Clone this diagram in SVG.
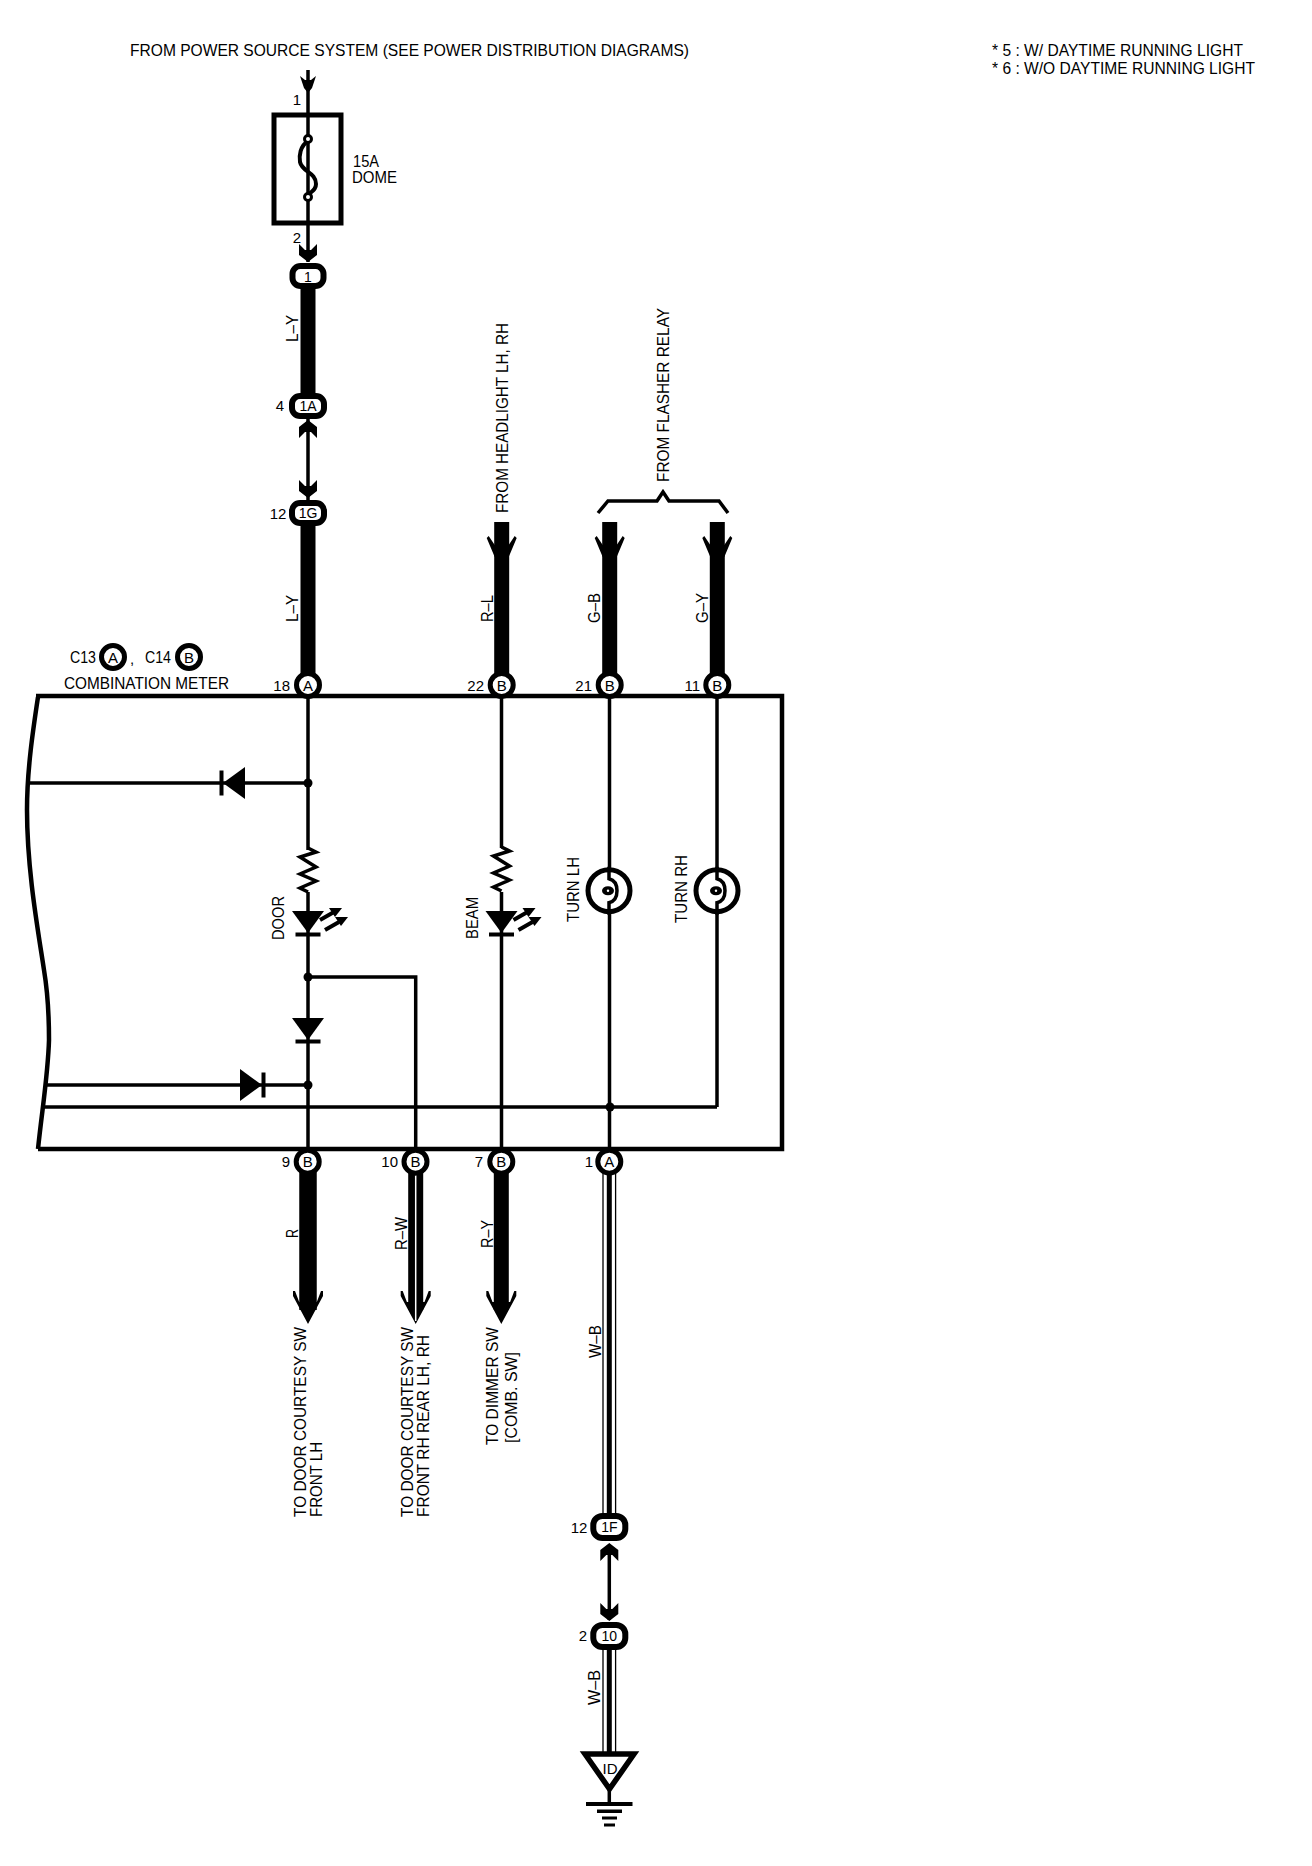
<svg xmlns="http://www.w3.org/2000/svg" xmlns:xlink="http://www.w3.org/1999/xlink" width="1312" height="1866" viewBox="0 0 1312 1866">
<style>
text{font-family:"Liberation Sans",Arial,sans-serif;font-size:15px;fill:#000}
text[textLength]{font-size:16.5px}
.ring{fill:#fff;stroke:#000;stroke-width:5}
.pill{fill:#fff;stroke:#000;stroke-width:6}
.fat{stroke:#000;fill:none;stroke-linecap:butt}
.thin{stroke:#000;fill:none;stroke-width:3.5}
.box{stroke:#000;fill:none;stroke-width:4.5}
.c{text-anchor:middle}
.e{text-anchor:end}
.p{font-size:14px}
</style>
<defs>
<polygon id="tipArrow" points="0,0 -15,-28 -15,-33 -13,-33 -8.8,-22 8.8,-22 13,-33 15,-33 15,-28"/>
<polygon id="yArrow" points="-15,1 -13,-1 -7,8 7,8 13,-1 15,1 7,20 -7,20"/>
<polygon id="smallArrow" points="-9,-18 -3,-12 3,-12 9,-18 9,-7 0,0 -9,-7"/>
<g id="diode"><polygon points="-16,0 16,0 0,22"/><rect x="-12.5" y="21.5" width="25" height="4"/></g>
<g id="led"><use href="#diode"/><path d="M12,9 L26,1 M17,19 L31,11" stroke="#000" stroke-width="4" fill="none"/><polygon points="34,-3 21,-3 27,6"/><polygon points="40,6 27,6 33,15"/></g>
<path id="res" d="M0,0 L8,4 L-8,9 L8,19 L-8,26 L8,33 L-8,40 L0,44" fill="none" stroke="#000" stroke-width="3.5"/>
<g id="lamp"><circle r="21" fill="#fff" stroke="#000" stroke-width="5"/><path d="M0,-24 V-12 Q8,-10 8,0 Q8,10 0,12 V24" fill="none" stroke="#000" stroke-width="3.5"/><ellipse cx="-1" cy="0" rx="6" ry="4.5"/><circle cx="-1" cy="0" r="1.2" fill="#fff"/></g>
</defs>

<g id="connectors">
<path class="thin" d="M308,70 V262"/>
<path class="fat" stroke-width="15" d="M308,285 V395"/>
<path class="thin" d="M308,415 V500"/>
<path class="fat" stroke-width="15" d="M308,520 V675"/>
<path class="fat" stroke-width="15" d="M501.7,522 V675"/>
<path class="fat" stroke-width="15" d="M609.7,522 V675"/>
<path class="fat" stroke-width="15" d="M717.3,522 V675"/>
<path class="thin" d="M308,696 V1149"/>
<path class="thin" d="M501.5,696 V1149"/>
<path class="thin" d="M609.5,696 V1149"/>
<path class="thin" d="M717,696 V1107"/>
<path class="thin" d="M27,783 H308"/>
<path class="thin" d="M47,1085 H308"/>
<path class="thin" d="M45,1107 H717"/>
<path class="thin" d="M308,977 H415.7 V1149"/>
<path class="fat" stroke-width="17.5" d="M308,1170 V1310"/>
<path class="fat" stroke-width="15" d="M415.7,1170 V1310"/>
<path class="fat" stroke-width="15" d="M501.3,1170 V1310"/>
<use href="#tipArrow" x="308" y="1324"/>
<use href="#tipArrow" x="415.7" y="1324"/>
<use href="#tipArrow" x="501.3" y="1324"/>
<path fill="none" stroke="#fff" stroke-width="1.5" d="M415.7,1172 V1321"/>
<path class="fat" stroke-width="1.3" d="M603,1170 V1520 M615.6,1170 V1520"/>
<path class="fat" stroke-width="5" d="M609.3,1170 V1520"/>
<path class="thin" d="M609.3,1545 V1620"/>
<path class="fat" stroke-width="1.3" d="M603,1645 V1755 M615.6,1645 V1755"/>
<path class="fat" stroke-width="5" d="M609.3,1645 V1755"/>
<path class="thin" d="M609.3,1790 V1804"/>
<use href="#smallArrow" x="308" y="262"/>
<use href="#smallArrow" transform="translate(308,420) scale(1,-1)"/>
<use href="#smallArrow" x="308" y="498"/>
<use href="#smallArrow" transform="translate(609.3,1543) scale(1,-1)"/>
<use href="#smallArrow" x="609.3" y="1621"/>
<polygon points="300,76 305,80 311,80 316,76 312,88 308,93 304,88"/>
<use href="#yArrow" x="501.7" y="537"/>
<use href="#yArrow" x="609.7" y="537"/>
<use href="#yArrow" x="717.3" y="537"/>
<circle cx="308" cy="783" r="4.5"/>
<circle cx="308" cy="977" r="4.5"/>
<circle cx="308" cy="1085" r="4.5"/>
<circle cx="610" cy="1107" r="4.5"/>
</g>

<g id="header-text">
<text x="130" y="56" textLength="559" lengthAdjust="spacingAndGlyphs">FROM POWER SOURCE SYSTEM (SEE POWER DISTRIBUTION DIAGRAMS)</text>
<text x="992" y="56" textLength="251" lengthAdjust="spacingAndGlyphs">* 5 : W/ DAYTIME RUNNING LIGHT</text>
<text x="992" y="74" textLength="263" lengthAdjust="spacingAndGlyphs">* 6 : W/O DAYTIME RUNNING LIGHT</text>
</g>

<g id="fuse-dome">
<rect x="274" y="115" width="67" height="108" class="box" style="stroke-width:5"/>
<path d="M308,141 C300,146 299,156 300,162 C302,172 316,172 316,184 C316,190 312,191 308,195" fill="none" stroke="#000" stroke-width="4"/>
<circle cx="308" cy="139" r="3.5" fill="#fff" stroke="#000" stroke-width="3"/>
<circle cx="308" cy="197" r="3.5" fill="#fff" stroke="#000" stroke-width="3"/>
<text x="353" y="167" textLength="26" lengthAdjust="spacingAndGlyphs">15A</text>
<text x="352" y="183" textLength="45" lengthAdjust="spacingAndGlyphs">DOME</text>
<text x="297" y="105" class="c">1</text>
<text x="297" y="243" class="c">2</text>
</g>

<g id="meter">
<path class="box" d="M36,696 H782 V1149 H38"/>
<path class="box" d="M38,697 C33,730 27,770 27,810 C27,870 38,930 44,970 C49,1000 49,1030 49,1040 C48,1075 42,1110 38,1149"/>
<text x="70" y="663" textLength="26" lengthAdjust="spacingAndGlyphs">C13</text>
<circle class="ring" cx="113" cy="657" r="11.5"/>
<text x="113" y="662.5" class="c">A</text>
<text x="132" y="664" class="c">,</text>
<text x="145" y="663" textLength="26" lengthAdjust="spacingAndGlyphs">C14</text>
<circle class="ring" cx="189" cy="657" r="11.5"/>
<text x="189" y="662.5" class="c">B</text>
<text x="64" y="689" textLength="165" lengthAdjust="spacingAndGlyphs">COMBINATION METER</text>
</g>

<g id="door-circuit">
<use href="#diode" transform="translate(245,783) rotate(90)"/>
<rect x="296" y="850" width="24" height="42" fill="#fff"/>
<use href="#res" x="308" y="848"/>
<use href="#led" x="308" y="911"/>
<use href="#diode" x="308" y="1018"/>
<use href="#diode" transform="translate(240,1085) rotate(-90)"/>
<text transform="translate(284,940) rotate(-90)" textLength="44" lengthAdjust="spacingAndGlyphs">DOOR</text>
</g>

<g id="beam-circuit">
<rect x="490" y="848" width="24" height="44" fill="#fff"/>
<use href="#res" x="501.5" y="847"/>
<use href="#led" x="501.5" y="911"/>
<text transform="translate(478,939) rotate(-90)" textLength="42" lengthAdjust="spacingAndGlyphs">BEAM</text>
</g>

<g id="turn-lh">
<use href="#lamp" x="609" y="890.7"/>
<text transform="translate(579,922) rotate(-90)" textLength="65" lengthAdjust="spacingAndGlyphs">TURN LH</text>
</g>
<g id="turn-rh">
<use href="#lamp" x="717" y="890.7"/>
<text transform="translate(687,923) rotate(-90)" textLength="68" lengthAdjust="spacingAndGlyphs">TURN RH</text>
</g>

<g id="conn-1">
<rect class="pill" x="292.5" y="266" width="31" height="20" rx="8"/>
<text x="308" y="281.5" class="c p">1</text>
</g>
<g id="conn-1A">
<rect class="pill" x="292" y="396" width="32" height="20" rx="8"/>
<text x="308" y="411" class="c p">1A</text>
<text x="280" y="411" class="c">4</text>
</g>
<g id="conn-1G">
<rect class="pill" x="292" y="503" width="32" height="20" rx="8"/>
<text x="308" y="518" class="c p">1G</text>
<text x="278" y="518.5" class="c">12</text>
</g>
<g id="conn-18A">
<circle class="ring" cx="308" cy="685" r="11.5"/>
<text x="308" y="690.5" class="c">A</text>
<text x="290" y="691" class="e">18</text>
</g>
<g id="conn-22B">
<circle class="ring" cx="501.7" cy="685" r="11.5"/>
<text x="501.7" y="690.5" class="c">B</text>
<text x="484" y="691" class="e">22</text>
</g>
<g id="conn-21B">
<circle class="ring" cx="609.7" cy="685" r="11.5"/>
<text x="609.7" y="690.5" class="c">B</text>
<text x="592" y="691" class="e">21</text>
</g>
<g id="conn-11B">
<circle class="ring" cx="717.3" cy="685" r="11.5"/>
<text x="717.3" y="690.5" class="c">B</text>
<text x="700" y="691" class="e">11</text>
</g>
<g id="conn-9B">
<circle class="ring" cx="307.7" cy="1161.7" r="11.5"/>
<text x="307.7" y="1167" class="c">B</text>
<text x="286" y="1167" class="c">9</text>
</g>
<g id="conn-10B">
<circle class="ring" cx="415.5" cy="1161.7" r="11.5"/>
<text x="415.5" y="1167" class="c">B</text>
<text x="398" y="1167" class="e">10</text>
</g>
<g id="conn-7B">
<circle class="ring" cx="501.3" cy="1161.7" r="11.5"/>
<text x="501.3" y="1167" class="c">B</text>
<text x="479" y="1167" class="c">7</text>
</g>
<g id="conn-1A-low">
<circle class="ring" cx="609.3" cy="1161.7" r="11.5"/>
<text x="609.3" y="1167" class="c">A</text>
<text x="589" y="1167" class="c">1</text>
</g>
<g id="conn-1F">
<rect class="pill" x="593.3" y="1516" width="32" height="22" rx="9"/>
<text x="609.3" y="1532" class="c p">1F</text>
<text x="579" y="1533" class="c">12</text>
</g>
<g id="conn-10">
<rect class="pill" x="593.3" y="1625" width="32" height="22" rx="9"/>
<text x="609.3" y="1641" class="c p">10</text>
<text x="583" y="1641" class="c">2</text>
</g>

<g id="ground-ID">
<polygon points="585,1754 634,1754 609.5,1789" fill="#fff" stroke="#000" stroke-width="5.5" stroke-linejoin="miter"/>
<text x="610" y="1774" class="c">ID</text>
<rect x="586" y="1802" width="46.5" height="4"/>
<rect x="597" y="1809.5" width="25" height="3.5"/>
<rect x="602" y="1816.5" width="15" height="3"/>
<rect x="604" y="1823.5" width="11" height="3"/>
</g>

<g id="wire-labels">
<text transform="translate(298,342) rotate(-90)" textLength="27" lengthAdjust="spacingAndGlyphs">L–Y</text>
<text transform="translate(298,622) rotate(-90)" textLength="27" lengthAdjust="spacingAndGlyphs">L–Y</text>
<text transform="translate(493,622) rotate(-90)" textLength="27" lengthAdjust="spacingAndGlyphs">R–L</text>
<text transform="translate(600,623) rotate(-90)" textLength="30" lengthAdjust="spacingAndGlyphs">G–B</text>
<text transform="translate(708,623) rotate(-90)" textLength="30" lengthAdjust="spacingAndGlyphs">G–Y</text>
<text transform="translate(298,1238) rotate(-90)" textLength="9" lengthAdjust="spacingAndGlyphs">R</text>
<text transform="translate(406.5,1250) rotate(-90)" textLength="33" lengthAdjust="spacingAndGlyphs">R–W</text>
<text transform="translate(492.5,1248) rotate(-90)" textLength="28" lengthAdjust="spacingAndGlyphs">R–Y</text>
<text transform="translate(601,1358) rotate(-90)" textLength="33" lengthAdjust="spacingAndGlyphs">W–B</text>
<text transform="translate(600,1705) rotate(-90)" textLength="35" lengthAdjust="spacingAndGlyphs">W–B</text>
</g>

<g id="end-labels">
<text transform="translate(508,513) rotate(-90)" textLength="190" lengthAdjust="spacingAndGlyphs">FROM HEADLIGHT LH, RH</text>
<text transform="translate(669,482) rotate(-90)" textLength="174" lengthAdjust="spacingAndGlyphs">FROM FLASHER RELAY</text>
<path d="M598,513 L608,501 H657 L663,492 L669,501 H719 L728,513" fill="none" stroke="#000" stroke-width="3.5"/>
<text transform="translate(306,1517) rotate(-90)" textLength="190" lengthAdjust="spacingAndGlyphs">TO DOOR COURTESY SW</text>
<text transform="translate(321.5,1517) rotate(-90)" textLength="75" lengthAdjust="spacingAndGlyphs">FRONT LH</text>
<text transform="translate(413,1517) rotate(-90)" textLength="190" lengthAdjust="spacingAndGlyphs">TO DOOR COURTESY SW</text>
<text transform="translate(429,1517) rotate(-90)" textLength="182" lengthAdjust="spacingAndGlyphs">FRONT RH REAR LH, RH</text>
<text transform="translate(498,1445) rotate(-90)" textLength="118" lengthAdjust="spacingAndGlyphs">TO DIMMER SW</text>
<text transform="translate(516.5,1443) rotate(-90)" textLength="91" lengthAdjust="spacingAndGlyphs">[COMB. SW]</text>
</g>
</svg>
